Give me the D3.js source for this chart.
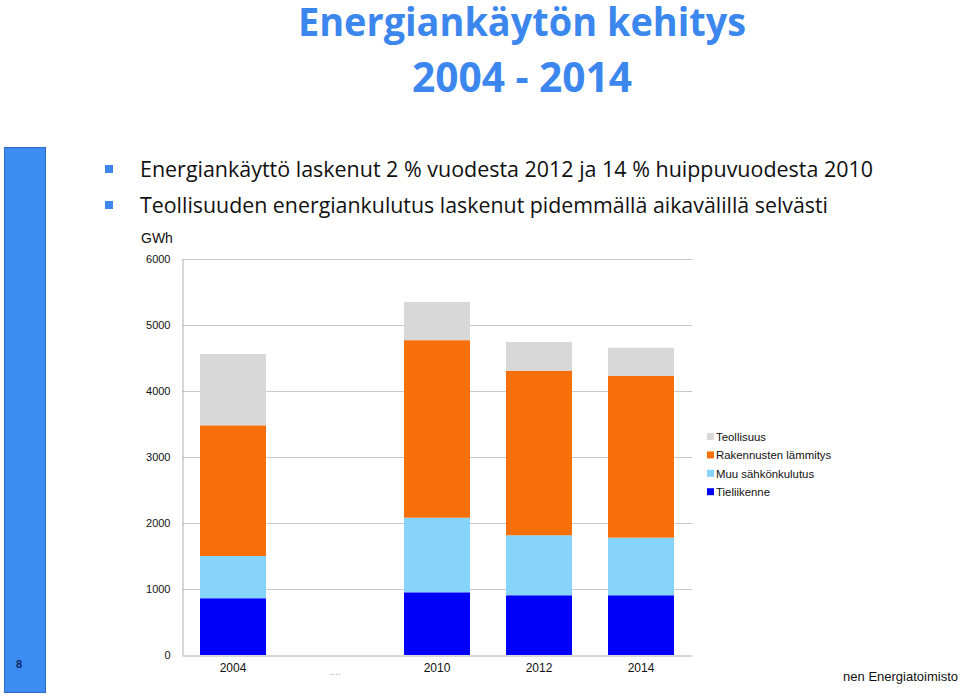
<!DOCTYPE html>
<html><head><meta charset="utf-8">
<script src="https://cdn.jsdelivr.net/npm/d3@7"></script>
<style>body{margin:0;background:#fff}svg{display:block}</style>
</head><body>
<svg id="c" width="960" height="696"></svg>
<script>
const categories = ["2004", "....", "2010", "2012", "2014"];
const seriesNames = ["Tieliikenne", "Muu sähkönkulutus", "Rakennusten lämmitys", "Teollisuus"];
const tieliikenne = [860, null, 950, 905, 905];
const muuSahko = [640, null, 1130, 909, 873];
const rakennusten = [1980, null, 2690, 2494, 2449];
const teollisuus = [1080, null, 580, 434, 429];
const yTicks = [0, 1000, 2000, 3000, 4000, 5000, 6000];
const legendOrder = ["Teollisuus", "Rakennusten lämmitys", "Muu sähkönkulutus", "Tieliikenne"];
const colors = {"Tieliikenne":"#0000fa","Muu sähkönkulutus":"#86d4fa","Rakennusten lämmitys":"#f76f09","Teollisuus":"#d8d8d8"};

const svg = d3.select("#c");
const blue = "#3b87ee";

// left slide bar
svg.append("rect").attr("x",4.5).attr("y",147.5).attr("width",41).attr("height",545)
  .attr("fill","#3d8cf2").attr("stroke","#2d6cc4").attr("stroke-width",1);
svg.append("text").attr("x",16).attr("y",668).text("8")
  .attr("font-family","Liberation Sans, Arial").attr("font-size",11).attr("font-weight","bold").attr("fill","#0a2a6a");

// title
function fitText(sel, w){ sel.attr("textLength", w).attr("lengthAdjust","spacingAndGlyphs"); }
const t1 = svg.append("text").attr("x",298).attr("y",36).text("Energiankäytön kehitys")
  .attr("font-family","Open Sans").attr("font-weight","bold").attr("font-size",40).attr("fill",blue);
fitText(t1, 448);
const t2 = svg.append("text").attr("x",412).attr("y",92).text("2004 - 2014")
  .attr("font-family","Open Sans").attr("font-weight","bold").attr("font-size",41).attr("fill",blue);
fitText(t2, 220);

// bullets
const bullets = [
  {text:"Energiankäyttö laskenut 2 % vuodesta 2012 ja 14 % huippuvuodesta 2010", y:177, w:733},
  {text:"Teollisuuden energiankulutus laskenut pidemmällä aikavälillä selvästi", y:213, w:688}
];
bullets.forEach(b=>{
  svg.append("rect").attr("x",105).attr("y",b.y-12).attr("width",8).attr("height",8).attr("fill",blue);
  const t = svg.append("text").attr("x",140).attr("y",b.y).text(b.text)
    .attr("font-family","Open Sans").attr("font-size",21).attr("fill","#111");
  fitText(t, b.w);
});

// chart
const x0 = 182, x1 = 692, yTop = 259, yBot = 655;
const x = d3.scaleBand().domain(categories).range([x0, x1]).paddingInner(0.353).paddingOuter(0.1765);
const y = d3.scaleLinear().domain([0, 6000]).range([yBot, yTop]);

svg.append("text").attr("x",141).attr("y",243).text("GWh")
  .attr("font-family","Liberation Sans, Arial").attr("font-size",14).attr("fill","#111");

const grid = svg.append("g");
yTicks.filter(d=>d>0).forEach(d=>{
  grid.append("line").attr("x1",x0).attr("x2",x1).attr("y1",Math.round(y(d))+0.5).attr("y2",Math.round(y(d))+0.5)
    .attr("stroke","#c8c8c8").attr("stroke-width",1);
});
const yAxis = d3.axisLeft(y).tickValues(yTicks).tickSize(0).tickPadding(12).tickFormat(d3.format("d"));
const ya = svg.append("g").attr("transform",`translate(${x0+0.5},0)`).call(yAxis);
ya.select(".domain").attr("stroke","#b0b0b0");
ya.selectAll("text").attr("font-family","Liberation Sans, Arial").attr("font-size",11).attr("fill","#111");

const data = categories.map((c,i)=>({cat:c, "Tieliikenne":tieliikenne[i]||0, "Muu sähkönkulutus":muuSahko[i]||0,
  "Rakennusten lämmitys":rakennusten[i]||0, "Teollisuus":teollisuus[i]||0}));
const stack = d3.stack().keys(seriesNames)(data);
svg.append("g").selectAll("g").data(stack).join("g").attr("fill",d=>colors[d.key])
  .selectAll("rect").data(d=>d.filter(p=>p[1]>p[0])).join("rect")
  .attr("x",d=>x(d.data.cat)).attr("width",x.bandwidth())
  .attr("y",d=>y(d[1])).attr("height",d=>y(d[0])-y(d[1]));

const xAxis = d3.axisBottom(x).tickSize(0).tickPadding(8);
const xa = svg.append("g").attr("transform",`translate(0,${yBot+0.5})`).call(xAxis);
xa.select(".domain").attr("stroke","#b0b0b0");
xa.selectAll("text").attr("font-family","Liberation Sans, Arial").attr("font-size",12).attr("fill","#111");
xa.selectAll(".tick text").filter(d=>d==="....").attr("fill","#aaa").attr("font-size",10).attr("dy","1.1em");

// legend
const lg = svg.append("g");
legendOrder.forEach((k,i)=>{
  const ly = 437 + i*18.4;
  lg.append("rect").attr("x",707).attr("y",ly-4).attr("width",7).attr("height",7).attr("fill",colors[k]);
  lg.append("text").attr("x",716).attr("y",ly+4).text(k)
    .attr("font-family","Liberation Sans, Arial").attr("font-size",11.4).attr("fill","#111");
});

// footer
svg.append("text").attr("x",958).attr("y",681).attr("text-anchor","end").text("nen Energiatoimisto")
  .attr("font-family","Liberation Sans, Arial").attr("font-size",13).attr("fill","#111");
</script>
</body></html>
